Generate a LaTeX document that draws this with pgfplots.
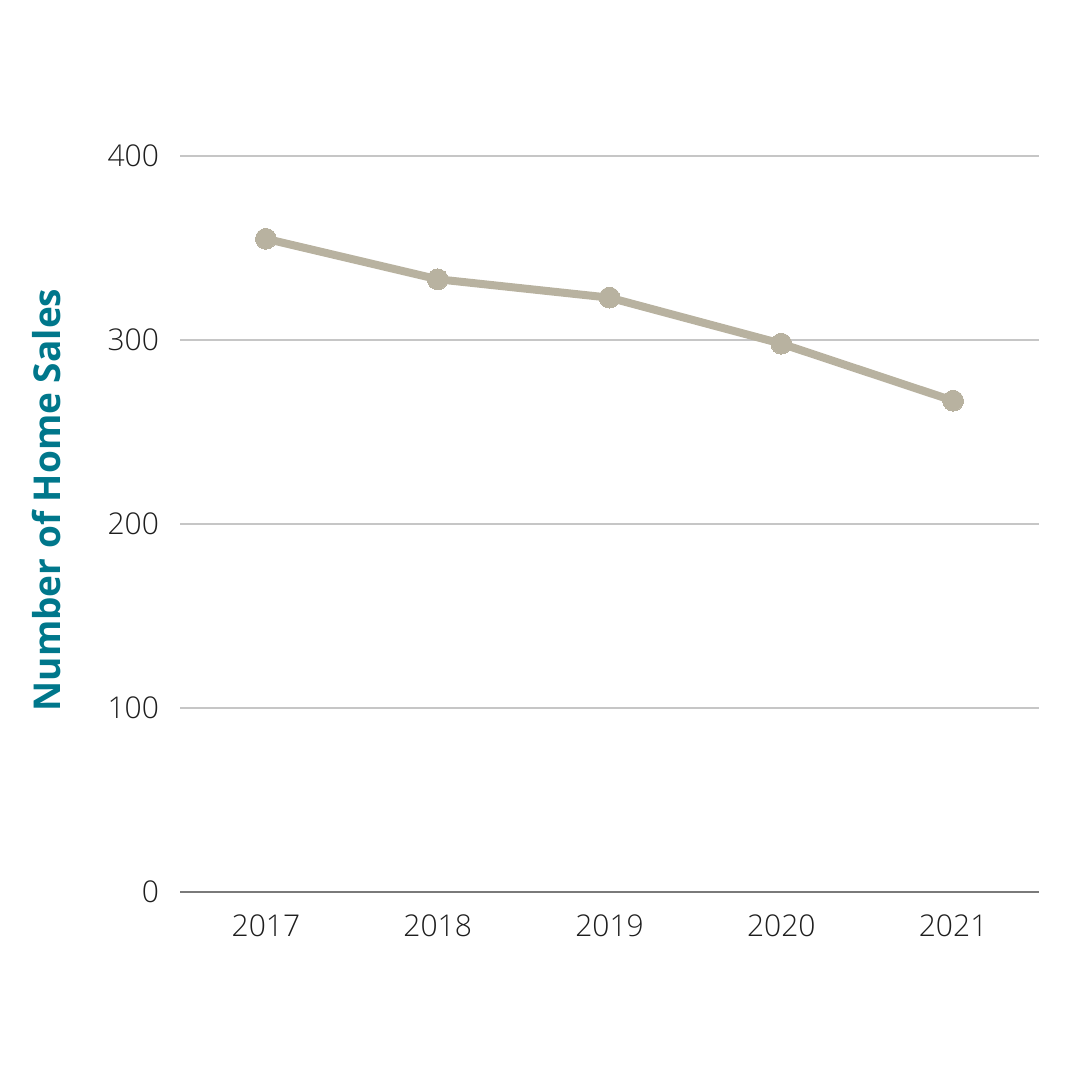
\documentclass[border=0pt]{standalone}
\usepackage{fontspec}
\setmainfont{Open Sans}
\newfontfamily\lightfont{Open Sans Light}
\usepackage{pgfplots}
\pgfplotsset{compat=1.18}
\definecolor{teal1}{HTML}{00778B}
\definecolor{linec}{HTML}{B8B2A0}
\definecolor{gridc}{HTML}{C6C6C6}
\definecolor{axisc}{HTML}{7A7A7A}
\definecolor{txt}{HTML}{1E1E1E}
\begin{document}
\begin{tikzpicture}
\path[use as bounding box] (0,0) rectangle (540pt,540pt);
\begin{axis}[
  at={(90pt,94pt)}, anchor=south west,
  scale only axis, width=429.5pt, height=368pt,
  xmin=-0.5, xmax=4.5, ymin=0, ymax=400,
  xtick={0,1,2,3,4}, xticklabels={2017,2018,2019,2020,2021},
  ytick={0,100,200,300,400},
  axis x line*=bottom, axis y line*=left,
  x axis line style={axisc, line width=1pt, -},
  y axis line style={draw=none},
  ymajorgrids, grid style={gridc, line width=1pt},
  major tick length=0pt,
  tick label style={font=\lightfont\fontsize{15}{18}\selectfont, text=txt},
  /pgf/number format/assume math mode=true,
  yticklabel style={xshift=-7pt},
  xticklabel style={yshift=-8pt},
  clip=false,
]
\addplot[linec, line width=4pt, mark=*, mark size=5.2pt, mark options={fill=linec, draw=linec, line width=0pt}]
coordinates {(0,355) (1,333) (2,323) (3,298) (4,267)};
\end{axis}
\node[rotate=90, font=\bfseries\fontsize{18.5}{22}\selectfont, text=teal1] at (23.5pt,290pt) {Number of Home Sales};
\end{tikzpicture}
\end{document}
